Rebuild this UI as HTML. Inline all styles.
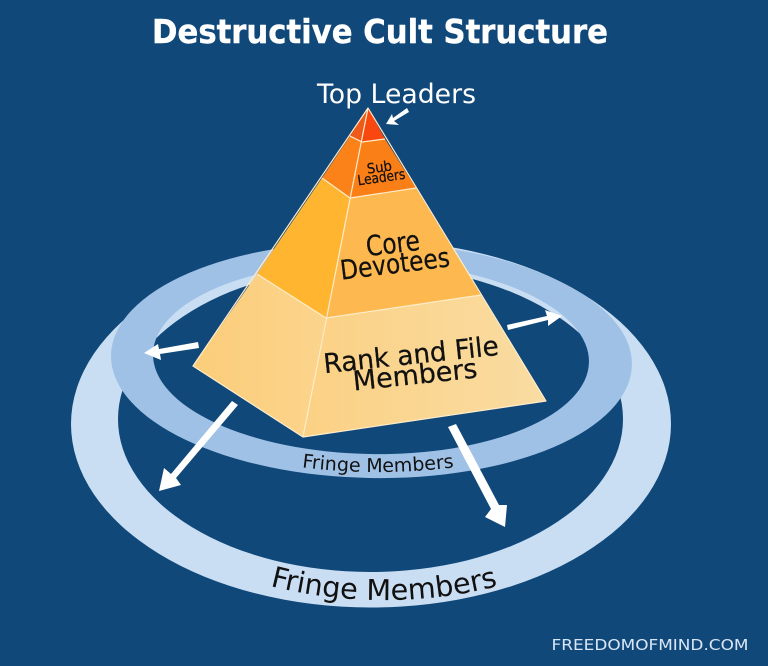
<!DOCTYPE html>
<html><head><meta charset="utf-8"><style>
html,body{margin:0;padding:0;background:#10487a}
svg{display:block}
text{font-family:"DejaVu Sans","Liberation Sans",sans-serif}
</style></head><body>
<svg width="768" height="666" viewBox="0 0 768 666" xmlns="http://www.w3.org/2000/svg">
<defs>
<linearGradient id="gl" x1="0" x2="1" y1="0" y2="0"><stop offset="0" stop-color="#fbcd7a"/><stop offset="1" stop-color="#fbd48c"/></linearGradient>
<linearGradient id="gr" x1="0" x2="1" y1="0" y2="0"><stop offset="0" stop-color="#fbd184"/><stop offset="1" stop-color="#f9dca2"/></linearGradient>
<path id="arcS" d="M 128 372 A 250 100 0 0 0 628 372"/>
<path id="arcL" d="M 94 425 A 290 175 0 0 0 674 425"/>
</defs>
<rect width="768" height="666" fill="#10487a"/>
<path fill-rule="evenodd" fill="#c9ddf3" d="M71 424a300 183.500 0 1 0 600 0a300 183.500 0 1 0 -600 0Z M118 419a252.500 153 0 1 0 505 0a252.500 153 0 1 0 -505 0Z"/>
<g transform="rotate(1.100 371 358)">
<path fill-rule="evenodd" fill="#9fc1e6" d="M111 360a260.500 118 0 1 0 521 0a260.500 118 0 1 0 -521 0Z M153 358a218 96 0 1 0 436 0a218 96 0 1 0 -436 0Z"/>
</g>

<polygon points="368,108 350,136 362,142" fill="#ee5a1a"/>
<polygon points="368,108 362,142 385,139" fill="#f9480f"/>
<polygon points="350,136 322,178 350,198 362,142" fill="#fb8219"/>
<polygon points="362,142 350,198 416,188 385,139" fill="#fb7f17"/>
<polygon points="322,178 257,274 326,318 350,198" fill="#ffb52f"/>
<polygon points="350,198 326,318 481,295 416,188" fill="#fdb94f"/>
<polygon points="257,274 193,366 303,437 326,318" fill="url(#gl)"/>
<polygon points="326,318 303,437 546,401 481,295" fill="url(#gr)"/>
<g fill="none" stroke="#ffeccb" stroke-width="1.200" stroke-linejoin="round">
<polygon points="368,108 193,366 303,437 546,401"/>
<line x1="368" y1="108" x2="303" y2="437"/>
<polyline points="350,136 362,142 385,139"/>
<polyline points="322,178 350,198 416,188"/>
<polyline points="257,274 326,318 481,295"/>
</g>

<g fill="#fff" stroke="none">
<polygon points="407,108 409,112 394,121 399,125 386,124 392,114 393,118"/>
<polygon points="507,325 547,316 545,310 562,316 548,326 548,320 508,330"/>
<polygon points="198,342 199,348 160,354 161,360 144,353 158,344 159,349"/>
<polygon points="232,401 238,405 176,478 181,485 159,491 164,468 171,474"/>
<polygon points="456,424 448,427 491,509 485,517 505,527 507,505 499,505"/>
</g>

<text x="380" y="43" fill="#fff" stroke="#fff" stroke-width=".4" font-size="33" font-weight="700" text-anchor="middle" textLength="456" lengthAdjust="spacingAndGlyphs">Destructive Cult Structure</text>
<text x="396.500" y="103" fill="#fff" font-size="27" text-anchor="middle" textLength="159" lengthAdjust="spacingAndGlyphs">Top Leaders</text>

<g fill="#111" stroke="#111" stroke-width=".25" text-anchor="middle">
<text transform="translate(380 172) rotate(-8)" font-size="14" textLength="25" lengthAdjust="spacingAndGlyphs">Sub</text>
<text transform="translate(382 182) rotate(-8)" font-size="14" textLength="48" lengthAdjust="spacingAndGlyphs">Leaders</text>
<text transform="translate(394 253) rotate(-7)" font-size="28" textLength="54" lengthAdjust="spacingAndGlyphs">Core</text>
<text transform="translate(396 273) rotate(-7)" font-size="27" textLength="110" lengthAdjust="spacingAndGlyphs">Devotees</text>
<text transform="translate(412 364) rotate(-6)" font-size="27" textLength="176" lengthAdjust="spacingAndGlyphs">Rank and File</text>
<text transform="translate(416 384) rotate(-6)" font-size="27" textLength="125" lengthAdjust="spacingAndGlyphs">Members</text>
</g>
<text fill="#111" font-size="19" text-anchor="middle"><textPath href="#arcS" startOffset="50%">Fringe Members</textPath></text>
<text fill="#111" font-size="28.700" text-anchor="middle"><textPath href="#arcL" startOffset="50%">Fringe Members</textPath></text>
<text x="650" y="650" fill="#d8e6f5" font-size="15" text-anchor="middle" textLength="197" lengthAdjust="spacingAndGlyphs">FREEDOMOFMIND.COM</text>
</svg>
</body></html>
